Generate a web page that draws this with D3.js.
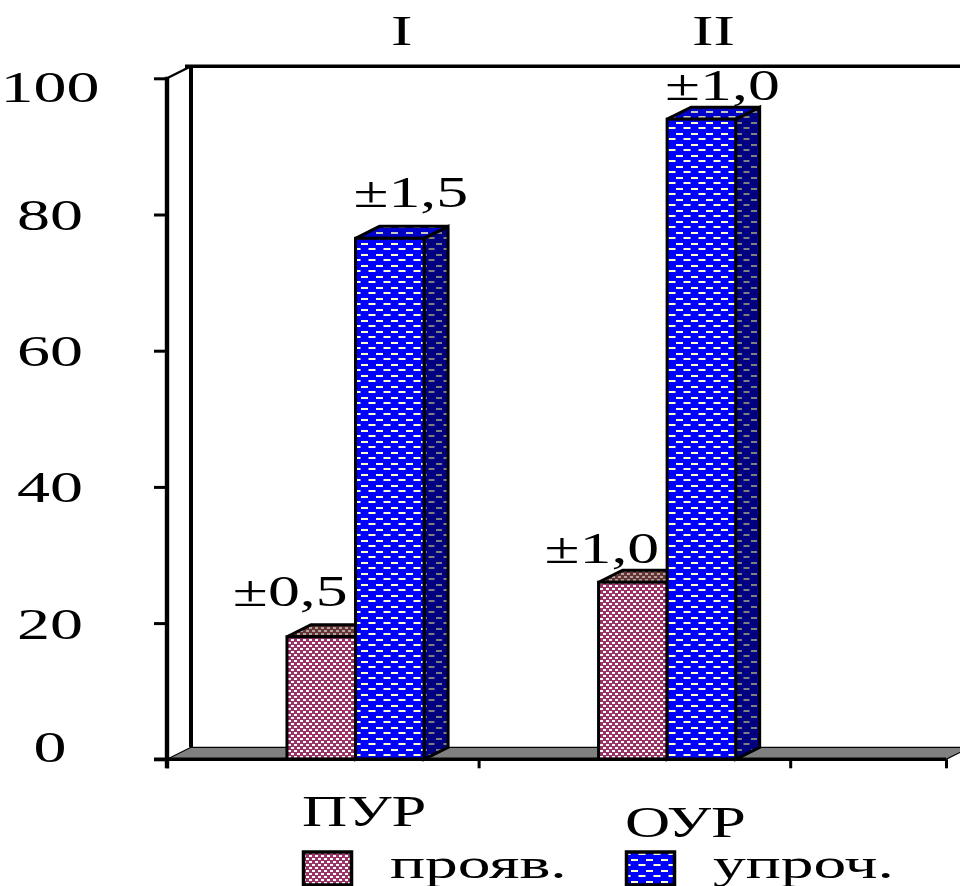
<!DOCTYPE html>
<html>
<head>
<meta charset="utf-8">
<script src="https://cdn.jsdelivr.net/npm/d3@7"></script>
<style>
  html, body { margin: 0; padding: 0; background: #fff; }
  svg { display: block; }
  text { font-family: "Liberation Serif", "Times New Roman", serif; fill: #000; }
</style>
</head>
<body>
<svg id="chart" width="960" height="886"></svg>
<script>
// ---- data ----
const groups = ["I", "II"];
const categories = ["ПУР", "ОУР"];
const seriesNames = ["прояв.", "упроч."];
const valuesProyav = [18, 26];
const valuesUproch = [76.5, 94];
const errorsProyav = [0.5, 1.0];
const errorsUproch = [1.5, 1.0];
const yTicks = [0, 20, 40, 60, 80, 100];

const seriesValues = [valuesProyav, valuesUproch];
const seriesErrors = [errorsProyav, errorsUproch];

// ---- layout ----
const svg = d3.select("#chart");
const axisX = 167;          // front vertical axis
const depth = { dx: 24, dy: -12 };  // 3-D depth offset
const slots = 2.5;          // category slots along the floor

const y = d3.scaleLinear().domain([0, 100]).range([759.3, 78.3]);
const x = d3.scaleLinear().domain([0, slots]).range([axisX, 946]);
const inner = d3.scaleBand().domain(seriesNames).range([0.385, 0.825]);

const ruCommas = d3.formatLocale({ decimal: ",", thousands: " ", grouping: [3], currency: ["", ""] });
const fmtErr = ruCommas.format(".1f");

const seriesStyle = [
  { front: "url(#pat-proyav)", top: "url(#pat-proyav-top)", side: "url(#pat-proyav-top)", labelDx: -31 },
  { front: "url(#pat-uproch)", top: "url(#pat-uproch-top)", side: "url(#pat-uproch-side)", labelDx: 21 }
];
const labelLift = [31, 19];

function stretch(sel, tx, ty, sx) {
  sel.attr("transform", `translate(${tx},${ty}) scale(${sx},1)`);
}

// ---- fill patterns ----
const defs = svg.append("defs");
function checker(id, bg, fg) {
  const p = defs.append("pattern").attr("id", id)
    .attr("patternUnits", "userSpaceOnUse").attr("width", 6).attr("height", 6);
  p.append("rect").attr("width", 6).attr("height", 6).attr("fill", bg);
  p.append("rect").attr("x", 0).attr("y", 0).attr("width", 3).attr("height", 2).attr("fill", fg);
  p.append("rect").attr("x", 3).attr("y", 3).attr("width", 3).attr("height", 2).attr("fill", fg);
}
function bricks(id, bg, fg, w) {
  const p = defs.append("pattern").attr("id", id)
    .attr("patternUnits", "userSpaceOnUse").attr("width", 15).attr("height", 11);
  p.append("rect").attr("width", 15).attr("height", 11).attr("fill", bg);
  p.append("rect").attr("x", 1).attr("y", 1).attr("width", w).attr("height", 2).attr("fill", fg);
  p.append("rect").attr("x", 8.5).attr("y", 6).attr("width", w).attr("height", 2).attr("fill", fg);
  p.append("rect").attr("x", 8.5 - 15).attr("y", 6).attr("width", w).attr("height", 2).attr("fill", fg);
}
checker("pat-proyav", "#993366", "#ffffff");
checker("pat-proyav-top", "#663333", "#b0a4a4");
bricks("pat-uproch", "#0000ff", "#ffffcc", 7);
bricks("pat-uproch-top", "#0000c8", "#c8c8b8", 7);
bricks("pat-uproch-side", "#000080", "#808080", 6);

// ---- floor and back wall ----
const y0 = y(0);
svg.append("polygon")
  .attr("points", [[x(0), y0], [x(slots), y0], [x(slots) + depth.dx, y0 + depth.dy], [x(0) + depth.dx, y0 + depth.dy]].join(" "))
  .attr("fill", "#808080").attr("stroke", "#000").attr("stroke-width", 1.2);

const wallX = axisX + depth.dx;
const wallTop = y(100) + depth.dy;
svg.append("line").attr("x1", wallX).attr("x2", wallX)
  .attr("y1", wallTop).attr("y2", y0 + depth.dy)
  .attr("stroke", "#000").attr("stroke-width", 4);
svg.append("line").attr("x1", wallX - 6).attr("x2", 960)
  .attr("y1", wallTop).attr("y2", wallTop)
  .attr("stroke", "#000").attr("stroke-width", 3.4);
svg.append("line").attr("x1", axisX).attr("x2", wallX)
  .attr("y1", y(100)).attr("y2", wallTop)
  .attr("stroke", "#000").attr("stroke-width", 2.4);

// ---- bars ----
const barLayer = svg.append("g");
groups.forEach((g, i) => {
  seriesNames.forEach((name, s) => {
    const v = seriesValues[s][i];
    const x0 = x(i + inner(name));
    const x1 = x(i + inner(name) + inner.bandwidth());
    const yt = y(v);
    const st = seriesStyle[s];
    const bar = barLayer.append("g").attr("stroke", "#000").attr("stroke-width", 3).attr("stroke-linejoin", "miter");
    bar.append("polygon")
      .attr("points", [[x1, y0], [x1 + depth.dx, y0 + depth.dy], [x1 + depth.dx, yt + depth.dy], [x1, yt]].join(" "))
      .attr("fill", st.side);
    bar.append("polygon")
      .attr("points", [[x0, yt], [x0 + depth.dx, yt + depth.dy], [x1 + depth.dx, yt + depth.dy], [x1, yt]].join(" "))
      .attr("fill", st.top);
    bar.append("rect")
      .attr("x", x0).attr("y", yt).attr("width", x1 - x0).attr("height", y0 - yt)
      .attr("fill", st.front);
  });
});

// ---- axes ----
const yAxisG = svg.append("g").attr("transform", `translate(${axisX},0)`)
  .call(d3.axisLeft(y).tickValues(yTicks).tickSize(13).tickSizeOuter(0).tickFormat(d3.format("d")));
yAxisG.select(".domain").remove();
yAxisG.selectAll(".tick line").attr("stroke", "#000").attr("stroke-width", 3);
yAxisG.selectAll(".tick text")
  .attr("x", 0).attr("dy", 0).attr("fill", "#000")
  .attr("text-anchor", "middle")
  .style("font-size", "44px")
  .each(function (d) {
    const nudge = d === 0 ? -13 : d === 100 ? 8 : 0;   // keep end labels inside the axis span
    stretch(d3.select(this), 50 - axisX, 15 + nudge, 1.5);
  });

const xAxisG = svg.append("g").attr("transform", `translate(0,${y0})`)
  .call(d3.axisBottom(x).tickValues([0, 1, 2, slots]).tickSize(9).tickSizeOuter(0).tickFormat(""));
xAxisG.select(".domain").remove();
xAxisG.selectAll(".tick line").attr("stroke", "#000").attr("stroke-width", 3);

svg.append("line").attr("x1", axisX - 13).attr("x2", x(slots))
  .attr("y1", y0).attr("y2", y0).attr("stroke", "#000").attr("stroke-width", 3.4);
svg.append("line").attr("x1", axisX).attr("x2", axisX)
  .attr("y1", y(100) - 1.5).attr("y2", y0 + 9)
  .attr("stroke", "#000").attr("stroke-width", 4.4);

// ---- value labels (± error) ----
groups.forEach((g, i) => {
  seriesNames.forEach((name, s) => {
    const v = seriesValues[s][i];
    const cx = x(i + inner(name) + inner.bandwidth() / 2) + seriesStyle[s].labelDx;
    svg.append("text").attr("text-anchor", "middle").style("font-size", "44px")
      .text("±" + fmtErr(seriesErrors[s][i]))
      .call(stretch, cx, y(v) - labelLift[i], 1.45);
  });
  // group numeral above the taller bar
  const bx = x(i + inner(seriesNames[1]) + inner.bandwidth() / 2) + depth.dx / 2;
  svg.append("text").attr("text-anchor", "middle").style("font-size", "43px")
    .text(g)
    .call(stretch, bx, 45, 1.5);
});

// ---- category captions and legend ----
const legendX = [302, 625];
const captionY = [826, 837];
categories.forEach((c, i) => {
  svg.append("text").attr("text-anchor", "start").style("font-size", "45px")
    .text(c)
    .call(stretch, legendX[i], captionY[i], 1.39);
});

seriesNames.forEach((name, s) => {
  const lx = legendX[s];
  svg.append("rect")
    .attr("x", lx + 1.5).attr("y", 852).attr("width", 48).attr("height", 33)
    .attr("fill", seriesStyle[s].front)
    .attr("stroke", "#000").attr("stroke-width", 3.5);
  svg.append("text").attr("text-anchor", "start").style("font-size", "42px")
    .text(name)
    .call(stretch, lx + 88, 878, 1.56);
});
</script>
</body>
</html>
